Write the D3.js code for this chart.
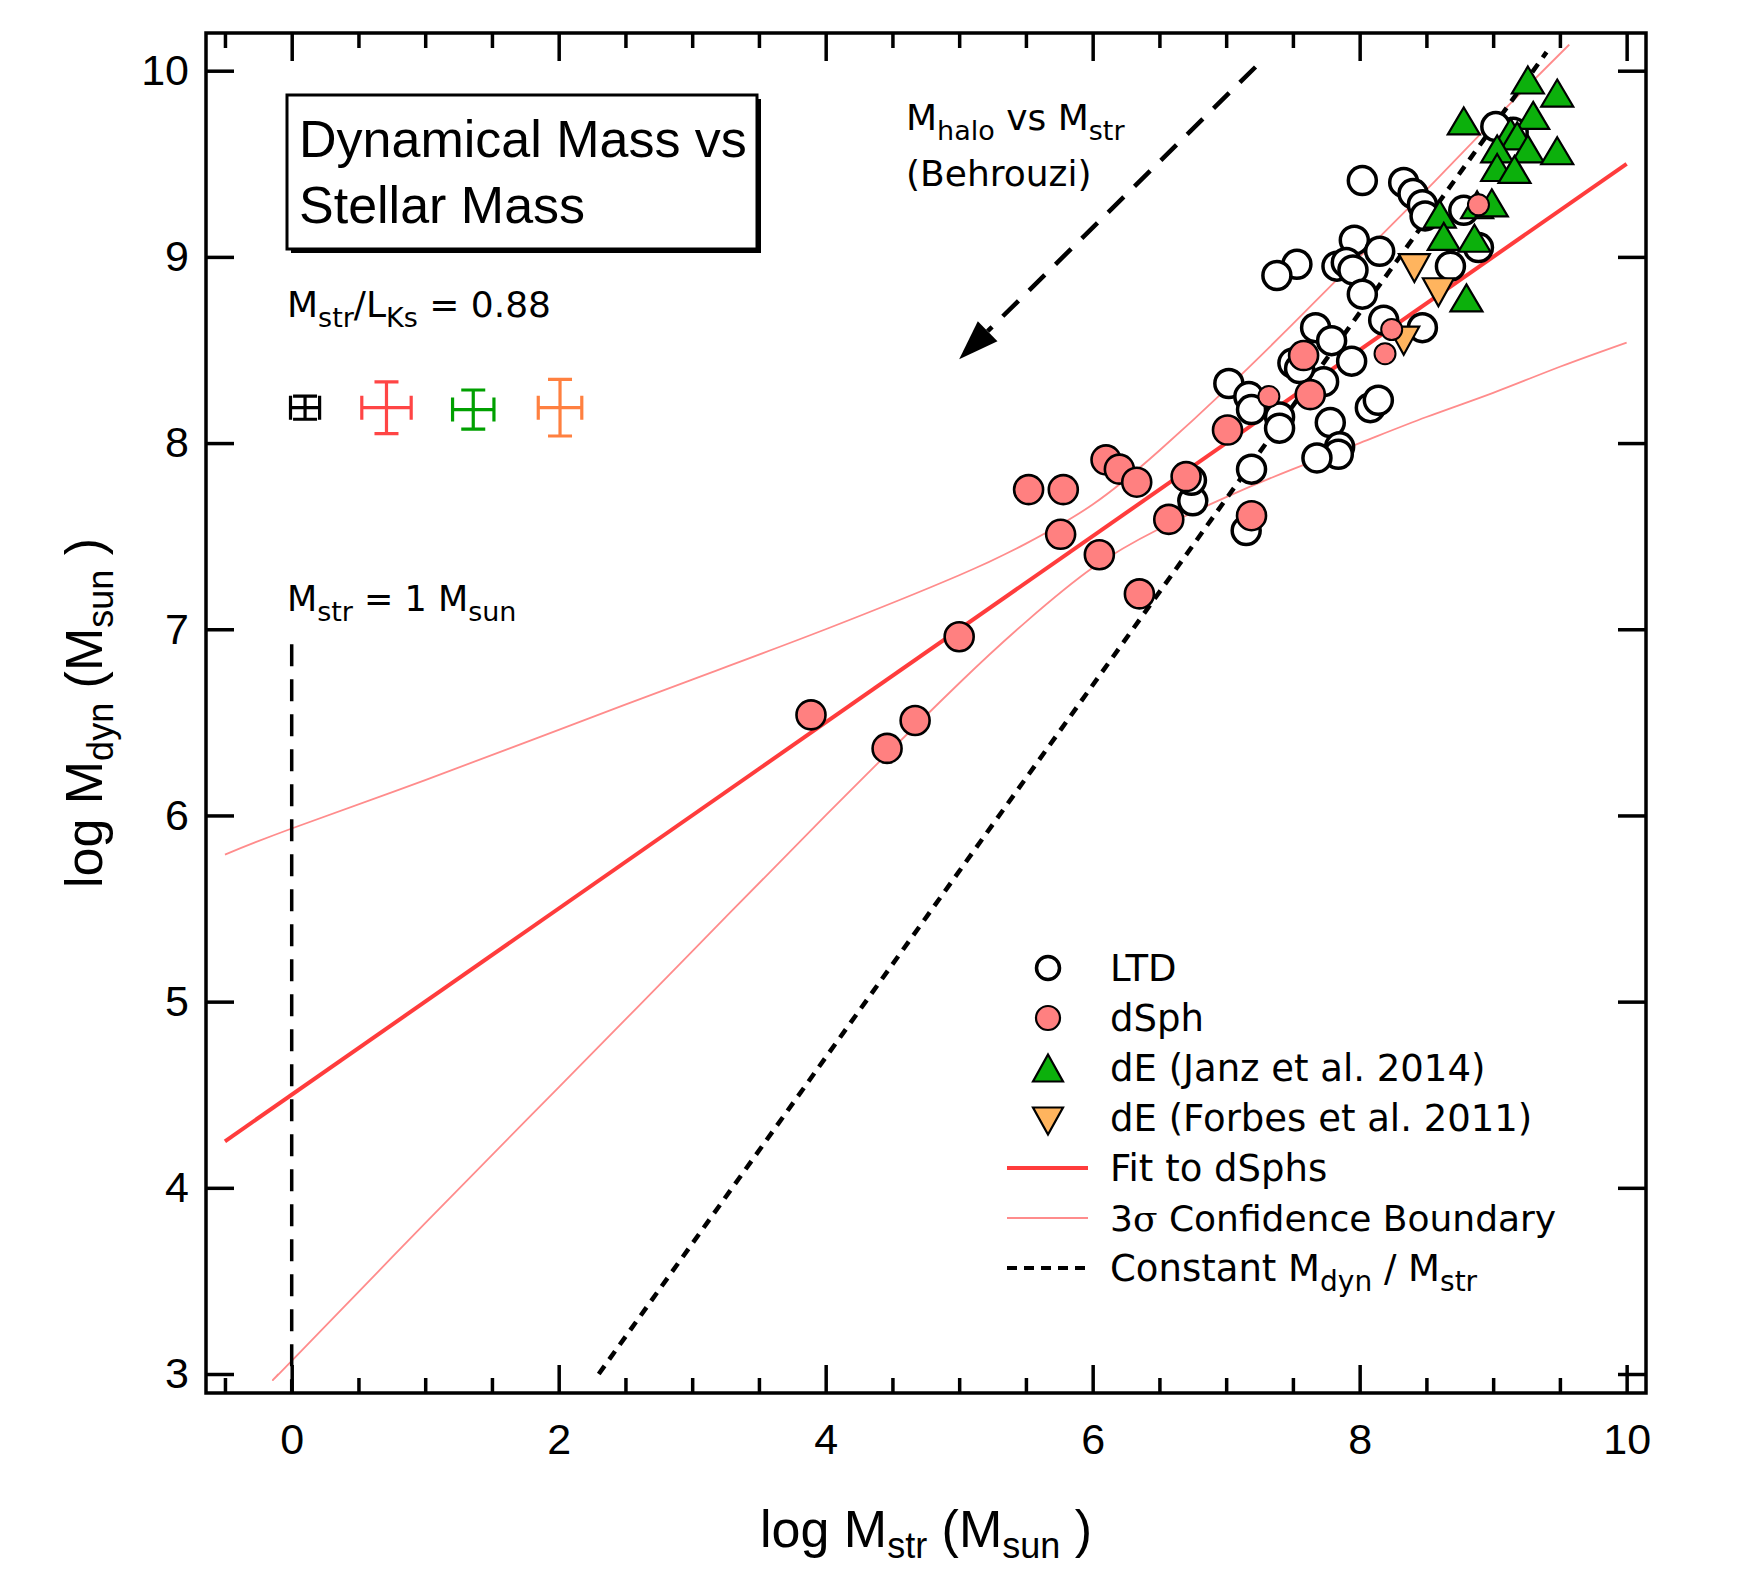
<!DOCTYPE html>
<html>
<head>
<meta charset="utf-8">
<script src="https://cdn.jsdelivr.net/npm/d3@7"></script>
<style>
  body { margin: 0; background: #fff; }
  text { fill: #000; }
</style>
</head>
<body>
<div id="chart"></div>
<script>
var svgWidth = 1755;
var svgHeight = 1571;

var margin = {top: 33, right: 109, bottom: 178, left: 206};
var width = svgWidth - margin.left - margin.right;
var height = svgHeight - margin.top - margin.bottom;

// ---- data: [log Mstr, log Mdyn] ----
var ltd = [
  [8.02, 9.41], [8.33, 9.40], [8.40, 9.34], [8.47, 9.28], [8.49, 9.22],
  [8.78, 9.25], [9.15, 9.67], [9.02, 9.70], [8.89, 9.05], [8.68, 8.95],
  [7.96, 9.09], [8.15, 9.03], [7.53, 8.96], [7.38, 8.90], [7.83, 8.95],
  [7.90, 8.97], [7.95, 8.93], [8.02, 8.80], [8.18, 8.66], [8.47, 8.62],
  [7.94, 8.44], [7.67, 8.62], [7.79, 8.55], [7.50, 8.43], [7.73, 8.33],
  [7.02, 8.32], [7.17, 8.25], [7.19, 8.18], [7.40, 8.14], [7.40, 8.08],
  [8.08, 8.19], [8.14, 8.23], [7.78, 8.11], [7.85, 7.98], [7.84, 7.94],
  [7.68, 7.92], [7.19, 7.86], [7.15, 7.53], [6.75, 7.69], [6.74, 7.80],
  [7.55, 8.40]
];
var dsph = [
  [3.89, 6.54], [4.46, 6.36], [4.67, 6.51], [5.00, 6.96], [5.52, 7.75],
  [5.78, 7.75], [5.76, 7.51], [6.05, 7.40], [6.10, 7.91], [6.20, 7.86],
  [6.33, 7.79], [6.35, 7.19], [6.57, 7.59], [6.70, 7.82], [7.01, 8.07],
  [7.19, 7.61], [7.58, 8.47], [7.63, 8.26]
];
var dsphSmall = [[7.32, 8.25], [8.19, 8.48], [8.24, 8.61], [8.89, 9.28]];
var deJanz = [
  [9.26, 9.95], [9.48, 9.88], [8.78, 9.73], [9.30, 9.76], [9.13, 9.67],
  [9.18, 9.65], [9.26, 9.58], [9.03, 9.58], [9.48, 9.57], [9.03, 9.48],
  [9.16, 9.47], [8.60, 9.23], [8.88, 9.28], [8.99, 9.29], [8.63, 9.11],
  [8.86, 9.10], [8.80, 8.78]
];
var deForbes = [[8.41, 8.94], [8.59, 8.81], [8.33, 8.55]];

// fit to dSphs and its 3 sigma boundaries
var fitLine = [[-0.5, 4.25], [10, 9.5]];
var bandUpper = [
  [-0.5, 5.79], [0, 5.93], [1, 6.19], [2, 6.46], [3, 6.73], [4, 7.00],
  [5, 7.29], [5.5, 7.46], [6, 7.67], [6.5, 7.96], [7, 8.29], [7.5, 8.64],
  [8, 9.00], [8.5, 9.36], [9, 9.73], [9.57, 10.14]
];
var bandLower = [
  [-0.1, 3.00], [0, 3.07], [1, 3.81], [2, 4.54], [3, 5.27], [4, 6.00],
  [5, 6.71], [5.5, 7.04], [6, 7.33], [6.5, 7.54], [7, 7.71], [7.5, 7.86],
  [8, 8.00], [8.5, 8.14], [9, 8.27], [9.5, 8.41], [10, 8.54]
];
var constLine = [[2.3, 3.0], [9.4, 10.1]];
var oneSunLine = [[0, 6.92], [0, 2.9]];
var behrouziArrow = [[7.22, 10.02], [5.0, 8.45]];

// typical error bars (centre, half widths)
var errX = [0.10, 0.71, 1.36, 2.01];
var errY = [8.19, 8.19, 8.18, 8.19];
var errDx = [0.109, 0.185, 0.155, 0.163];
var errDy = [0.062, 0.139, 0.105, 0.152];
var errColors = ["#000000", "#ff4545", "#00a000", "#ff8040"];

var xMajor = [0, 2, 4, 6, 8, 10];
var xMinor = [-0.5, 0.5, 1, 1.5, 2.5, 3, 3.5, 4.5, 5, 5.5, 6.5, 7, 7.5, 8.5, 9, 9.5];
var yMajor = [3, 4, 5, 6, 7, 8, 9, 10];

var legendItems = ["LTD", "dSph", "dE (Janz et al. 2014)", "dE (Forbes et al. 2011)",
  "Fit to dSphs", "3\u03c3 Confidence Boundary", "Constant M_dyn / M_str"];

// ---- colours ----
var fitColor = "#ff3c3c";
var bandColor = "#ff8c8c";
var dsphFill = "#ff8080";
var janzFill = "#0cb00c";
var forbesFill = "#ffb45e";

var sansUI = "'DejaVu Sans', Verdana, sans-serif";
var sansAx = "'Liberation Sans', Arial, sans-serif";

var svg = d3.select("#chart")
  .append("svg")
    .attr("width", svgWidth)
    .attr("height", svgHeight);

var chartGroup = svg.append("g")
  .attr("transform", `translate(${margin.left}, ${margin.top})`);

var x = d3.scaleLinear().domain([-0.642, 10.145]).range([0, width]);
var y = d3.scaleLinear().domain([2.898, 10.2025]).range([height, 0]);

// ---- lines ----
var line = d3.line().x(d => x(d[0])).y(d => y(d[1]));
var smooth = d3.line().x(d => x(d[0])).y(d => y(d[1])).curve(d3.curveNatural);

chartGroup.append("path").attr("d", smooth(bandUpper))
  .attr("fill", "none").attr("stroke", bandColor).attr("stroke-width", 1.8);
chartGroup.append("path").attr("d", smooth(bandLower))
  .attr("fill", "none").attr("stroke", bandColor).attr("stroke-width", 1.8);
chartGroup.append("path").attr("d", line(fitLine))
  .attr("fill", "none").attr("stroke", fitColor).attr("stroke-width", 4);
chartGroup.append("path").attr("d", line(constLine))
  .attr("fill", "none").attr("stroke", "#000").attr("stroke-width", 4.5)
  .attr("stroke-dasharray", "10,8");
chartGroup.append("path").attr("d", line(oneSunLine))
  .attr("fill", "none").attr("stroke", "#000").attr("stroke-width", 3.5)
  .attr("stroke-dasharray", "22,13");

// Behrouzi arrow
var a0 = [x(behrouziArrow[0][0]), y(behrouziArrow[0][1])];
var a1 = [x(behrouziArrow[1][0]), y(behrouziArrow[1][1])];
var adx = a1[0] - a0[0], ady = a1[1] - a0[1];
var alen = Math.sqrt(adx * adx + ady * ady);
var ux = adx / alen, uy = ady / alen;
var headL = 40, headW = 14;
var base = [a1[0] - ux * headL, a1[1] - uy * headL];
chartGroup.append("path")
  .attr("d", d3.line()([a0, base]))
  .attr("stroke", "#000").attr("stroke-width", 4.5)
  .attr("stroke-dasharray", "22,15").attr("fill", "none");
chartGroup.append("path")
  .attr("d", d3.line()([a1, [base[0] - uy * headW, base[1] + ux * headW],
                           [base[0] + uy * headW, base[1] - ux * headW]]) + "Z")
  .attr("fill", "#000");

// ---- markers ----
chartGroup.append("g").selectAll("circle").data(ltd).enter().append("circle")
  .attr("cx", d => x(d[0])).attr("cy", d => y(d[1])).attr("r", 14)
  .attr("fill", "#fff").attr("stroke", "#000").attr("stroke-width", 3.5);

function triPath(cx, cy, w, h, down) {
  var s = down ? -1 : 1;
  return "M" + cx + "," + (cy - s * h / 2) +
         "L" + (cx + w / 2) + "," + (cy + s * h / 2) +
         "L" + (cx - w / 2) + "," + (cy + s * h / 2) + "Z";
}

chartGroup.append("g").selectAll("path").data(deJanz).enter().append("path")
  .attr("d", d => triPath(x(d[0]), y(d[1]), 32, 27, false))
  .attr("fill", janzFill).attr("stroke", "#000").attr("stroke-width", 2.2)
  .attr("stroke-linejoin", "miter");

chartGroup.append("g").selectAll("path").data(deForbes).enter().append("path")
  .attr("d", d => triPath(x(d[0]), y(d[1]), 31, 28, true))
  .attr("fill", forbesFill).attr("stroke", "#000").attr("stroke-width", 2.2);

chartGroup.append("g").selectAll("circle").data(dsph).enter().append("circle")
  .attr("cx", d => x(d[0])).attr("cy", d => y(d[1])).attr("r", 14.5)
  .attr("fill", dsphFill).attr("stroke", "#000").attr("stroke-width", 2.6);

chartGroup.append("g").selectAll("circle").data(dsphSmall).enter().append("circle")
  .attr("cx", d => x(d[0])).attr("cy", d => y(d[1])).attr("r", 10.5)
  .attr("fill", dsphFill).attr("stroke", "#000").attr("stroke-width", 2);

// ---- sample error bars ----
var cap = 12;
errX.forEach(function(ex, i) {
  var cx = x(ex), cy = y(errY[i]);
  var hx = x(ex + errDx[i]) - cx, hy = cy - y(errY[i] + errDy[i]);
  var g = chartGroup.append("g").attr("stroke", errColors[i]).attr("stroke-width", 3.2)
    .attr("fill", "none");
  g.append("path").attr("d",
    "M" + (cx - hx) + "," + cy + "H" + (cx + hx) +
    "M" + (cx - hx) + "," + (cy - cap) + "V" + (cy + cap) +
    "M" + (cx + hx) + "," + (cy - cap) + "V" + (cy + cap) +
    "M" + cx + "," + (cy - hy) + "V" + (cy + hy) +
    "M" + (cx - cap) + "," + (cy - hy) + "H" + (cx + cap) +
    "M" + (cx - cap) + "," + (cy + hy) + "H" + (cx + cap));
});

// ---- axes (ticks point inward) ----
function styleAxis(g) {
  g.select(".domain").remove();
  g.selectAll(".tick line").attr("stroke", "#000").attr("stroke-width", 3.5);
  g.selectAll(".tick text").attr("font-family", sansAx).attr("font-size", 43)
    .attr("fill", "#000");
}

chartGroup.append("g").attr("transform", `translate(0, ${height})`)
  .call(d3.axisBottom(x).tickValues(xMajor).tickSize(-28).tickPadding(30)
    .tickFormat(d3.format("d")))
  .call(styleAxis);
chartGroup.append("g").attr("transform", `translate(0, ${height})`)
  .call(d3.axisBottom(x).tickValues(xMinor).tickSize(-15).tickFormat(""))
  .call(styleAxis);
chartGroup.append("g")
  .call(d3.axisTop(x).tickValues(xMajor).tickSize(-28).tickFormat(""))
  .call(styleAxis);
chartGroup.append("g")
  .call(d3.axisTop(x).tickValues(xMinor).tickSize(-15).tickFormat(""))
  .call(styleAxis);
chartGroup.append("g")
  .call(d3.axisLeft(y).tickValues(yMajor).tickSize(-28).tickPadding(17)
    .tickFormat(d3.format("d")))
  .call(styleAxis);
chartGroup.append("g").attr("transform", `translate(${width}, 0)`)
  .call(d3.axisRight(y).tickValues(yMajor).tickSize(-28).tickFormat(""))
  .call(styleAxis);

chartGroup.append("rect")
  .attr("width", width).attr("height", height)
  .attr("fill", "none").attr("stroke", "#000").attr("stroke-width", 3.5);

// ---- text helper with subscripts: "M_str" style parts ----
function rich(sel, parts, size, subSize, shift) {
  var cur = 0;
  parts.forEach(function(p) {
    var off = p[1] ? shift : 0;
    var t = sel.append("tspan").attr("font-size", p[1] ? subSize : size)
      .attr("dy", off - cur).text(p[0]);
    if (p[2]) t.attr("font-family", p[2]);
    cur = off;
  });
}

// axis titles
var xt = svg.append("text").attr("x", margin.left + width / 2).attr("y", 1547)
  .attr("text-anchor", "middle").attr("font-family", sansAx);
rich(xt, [["log M"], ["str", 1], [" (M"], ["sun", 1], [" )"]], 52, 36, 11);

var yt = svg.append("text").attr("transform", "translate(102, 713) rotate(-90)")
  .attr("text-anchor", "middle").attr("font-family", sansAx);
rich(yt, [["log M"], ["dyn", 1], [" (M"], ["sun", 1], [" )"]], 52, 36, 11);

// title box
svg.append("rect").attr("x", 291).attr("y", 99).attr("width", 470).attr("height", 154)
  .attr("fill", "#000");
svg.append("rect").attr("x", 287).attr("y", 95).attr("width", 470).attr("height", 154)
  .attr("fill", "#fff").attr("stroke", "#000").attr("stroke-width", 3);
svg.append("text").attr("x", 299).attr("y", 157).attr("font-family", sansAx)
  .attr("font-size", 52).text("Dynamical Mass vs");
svg.append("text").attr("x", 299).attr("y", 223).attr("font-family", sansAx)
  .attr("font-size", 52).text("Stellar Mass");

// annotations
var t1 = svg.append("text").attr("x", 287).attr("y", 317).attr("font-family", sansUI);
rich(t1, [["M"], ["str", 1], ["/L"], ["Ks", 1], [" = 0.88"]], 36, 27, 10);

var t2 = svg.append("text").attr("x", 287).attr("y", 611).attr("font-family", sansUI);
rich(t2, [["M"], ["str", 1], [" = 1 M"], ["sun", 1]], 35, 27, 10);

var t3 = svg.append("text").attr("x", 906).attr("y", 130).attr("font-family", sansUI);
rich(t3, [["M"], ["halo", 1], [" vs M"], ["str", 1]], 36, 27, 10);
svg.append("text").attr("x", 906).attr("y", 186).attr("font-family", sansUI)
  .attr("font-size", 36).text("(Behrouzi)");

// ---- legend ----
var legX = 1048, legTextX = 1110, legY0 = 968, legStep = 50;
var leg = svg.append("g");
legendItems.forEach(function(name, i) {
  var cy = legY0 + i * legStep;
  if (i === 0) {
    leg.append("circle").attr("cx", legX).attr("cy", cy).attr("r", 11.5)
      .attr("fill", "#fff").attr("stroke", "#000").attr("stroke-width", 3.5);
  } else if (i === 1) {
    leg.append("circle").attr("cx", legX).attr("cy", cy).attr("r", 12)
      .attr("fill", dsphFill).attr("stroke", "#000").attr("stroke-width", 2.2);
  } else if (i === 2) {
    leg.append("path").attr("d", triPath(legX, cy, 30, 27, false))
      .attr("fill", janzFill).attr("stroke", "#000").attr("stroke-width", 2.2);
  } else if (i === 3) {
    leg.append("path").attr("d", triPath(legX, cy + 3, 30, 27, true))
      .attr("fill", forbesFill).attr("stroke", "#000").attr("stroke-width", 2.2);
  } else if (i === 4) {
    leg.append("line").attr("x1", 1007).attr("x2", 1088).attr("y1", cy).attr("y2", cy)
      .attr("stroke", fitColor).attr("stroke-width", 4);
  } else if (i === 5) {
    leg.append("line").attr("x1", 1007).attr("x2", 1088).attr("y1", cy).attr("y2", cy)
      .attr("stroke", bandColor).attr("stroke-width", 1.8);
  } else {
    leg.append("line").attr("x1", 1007).attr("x2", 1085).attr("y1", cy).attr("y2", cy)
      .attr("stroke", "#000").attr("stroke-width", 4).attr("stroke-dasharray", "10,7");
  }
  var t = leg.append("text").attr("x", legTextX).attr("y", cy + 13)
    .attr("font-family", sansUI);
  if (i === 5) {
    rich(t, [["3"], ["\u03c3", 0, "'DejaVu Serif', serif"], [" Confidence Boundary"]], 36, 30, 9);
  } else if (i === 6) {
    rich(t, [["Constant M"], ["dyn", 1], [" / M"], ["str", 1]], 37, 28, 10);
  } else {
    t.attr("font-size", 37).text(name);
  }
});
</script>
</body>
</html>
